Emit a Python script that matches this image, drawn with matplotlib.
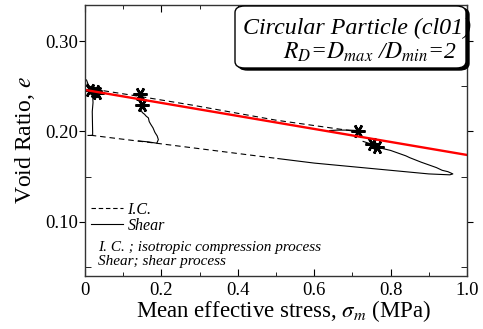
import matplotlib
matplotlib.use("Agg")
import matplotlib.pyplot as plt
from matplotlib.patches import FancyBboxPatch
from matplotlib.lines import Line2D
from matplotlib.ticker import MultipleLocator, FixedFormatter, FixedLocator

plt.rcParams['font.family'] = ['Liberation Serif', 'DejaVu Serif']
plt.rcParams['mathtext.fontset'] = 'stix'

# isotropic compression (I.C.) paths
ic1_p = [0.005, 0.02, 0.14, 0.283, 0.50, 0.71]
ic1_e = [0.253, 0.247, 0.239, 0.229, 0.2125, 0.200]
ic2_p = [0.015, 0.14, 0.19, 0.505]
ic2_e = [0.1958, 0.1893, 0.1868, 0.170]

# shear paths
sh1_p = [0.008, 0.020, 0.020, 0.019, 0.021, 0.020, 0.024, 0.010, 0.004]
sh1_e = [0.1956, 0.1956, 0.199, 0.222, 0.232, 0.240, 0.245, 0.250, 0.257]
sh2_p = [0.14, 0.165, 0.188, 0.192, 0.189, 0.183, 0.178, 0.172, 0.168, 0.166, 0.160, 0.156,
         0.150, 0.146, 0.152, 0.149, 0.147, 0.144]
sh2_e = [0.1895, 0.1885, 0.1870, 0.1910, 0.1950, 0.1990, 0.2040, 0.2080, 0.2110, 0.2150,
         0.2170, 0.2190, 0.2210, 0.2240, 0.2260, 0.2290, 0.2350, 0.2420]
sh3_p = [0.640, 0.660, 0.690, 0.715]
sh3_e = [0.2010, 0.2015, 0.2015, 0.2010]
sh4_p = [0.505, 0.60, 0.75, 0.90, 0.955, 0.963, 0.950, 0.935, 0.920, 0.900, 0.880, 0.850,
         0.840, 0.820, 0.800, 0.780, 0.765, 0.750, 0.728]
sh4_e = [0.1700, 0.1650, 0.1590, 0.1530, 0.1520, 0.1530, 0.1555, 0.1570, 0.1600, 0.1630,
         0.1660, 0.1710, 0.1730, 0.1760, 0.1790, 0.1810, 0.1830, 0.1860, 0.1890]

# critical states
cs_p = [0.012, 0.026, 0.032, 0.144, 0.149, 0.715, 0.750, 0.765]
cs_e = [0.246, 0.245, 0.243, 0.242, 0.229, 0.201, 0.186, 0.183]

# critical state line
csl_p = [0.0, 1.0]
csl_e = [0.246, 0.174]

fig = plt.figure(figsize=(4.83, 3.29), dpi=100)
ax = fig.add_axes([85/483, 1-276/329, 382/483, 271/329])

ax.plot(ic1_p, ic1_e, color='black', lw=0.8, ls=(0, (5, 3.5)))
ax.plot(ic2_p, ic2_e, color='black', lw=0.8, ls=(0, (5, 3.5)))
for p, e in [(sh1_p, sh1_e), (sh2_p, sh2_e), (sh3_p, sh3_e), (sh4_p, sh4_e)]:
    ax.plot(p, e, color='black', lw=0.8)
ax.plot(cs_p, cs_e, ls='none', marker=(6, 2, 90), ms=10, mew=1.8, color='black')
ax.plot(csl_p, csl_e, color='red', lw=1.7)

ax.set_xlim(0, 1.0)
ax.set_ylim(0.04, 0.34)
ax.xaxis.set_major_locator(FixedLocator([0, 0.2, 0.4, 0.6, 0.8, 1.0]))
ax.xaxis.set_major_formatter(FixedFormatter(['0', '0.2', '0.4', '0.6', '0.8', '1.0']))
ax.xaxis.set_minor_locator(MultipleLocator(0.1))
ax.yaxis.set_major_locator(FixedLocator([0.10, 0.20, 0.30]))
ax.yaxis.set_major_formatter(FixedFormatter(['0.10', '0.20', '0.30']))
ax.yaxis.set_minor_locator(MultipleLocator(0.05))
ax.tick_params(axis='x', which='both', direction='in', top=True, labelsize=13.5, pad=4)
ax.tick_params(axis='x', which='major', length=5)
ax.tick_params(axis='x', which='minor', length=3)
ax.tick_params(axis='y', which='major', direction='out', length=4, labelsize=13.5, pad=1)
ax.tick_params(axis='y', which='minor', direction='in', length=4, right=True)
ax.tick_params(axis='y', which='major', right=True)
for s in ax.spines.values():
    s.set_linewidth(1.0)
    s.set_color('#333333')

ax.set_xlabel(r'Mean effective stress, $\sigma_m$ (MPa)', fontsize=16.5, labelpad=1)
ax.xaxis.set_label_coords(0.52, -0.08)
ax.xaxis.label.set_va('top')
ax.set_ylabel(r'Void Ratio, $e$', fontsize=17, labelpad=6)

# legend
handles = [Line2D([], [], color='black', lw=0.8, ls=(0, (4, 2.5))),
           Line2D([], [], color='black', lw=0.8)]
ax.legend(handles, ['I.C.', 'Shear'], loc='lower left', bbox_to_anchor=(0.015, 0.155),
          frameon=False, handlelength=2.0, handletextpad=0.3, labelspacing=0.0,
          borderpad=0, borderaxespad=0, prop={'style': 'italic', 'size': 11.5})

ax.text(0.033, 0.105, 'I. C. ; isotropic compression process', transform=ax.transAxes,
        fontsize=11, style='italic', va='center')
ax.text(0.033, 0.052, 'Shear; shear process', transform=ax.transAxes,
        fontsize=11, style='italic', va='center')

# label box with drop shadow
W, H = 483, 329
bx0, by0, bw, bh = 235, 329-68, 231, 62
shadow = FancyBboxPatch((bx0/W + 3/W, by0/H - 2/H), bw/W, bh/H,
                        boxstyle='round,pad=0,rounding_size=0.02', transform=fig.transFigure,
                        facecolor='black', edgecolor='black', lw=1, zorder=5)
box = FancyBboxPatch((bx0/W, by0/H), bw/W, bh/H,
                     boxstyle='round,pad=0,rounding_size=0.02', transform=fig.transFigure,
                     facecolor='white', edgecolor='black', lw=1, zorder=6)
fig.patches.extend([shadow, box])
fig.text(243/W, 1-34/H, 'Circular Particle (cl01)', fontsize=17.3, style='italic',
         ha='left', va='baseline', zorder=7)
fig.text(457/W, 1-59/H, r'$R_D$=$D_{max}$ /$D_{min}$=2', fontsize=17, style='italic',
         ha='right', va='baseline', zorder=7)

fig.savefig('out.png', dpi=100)
